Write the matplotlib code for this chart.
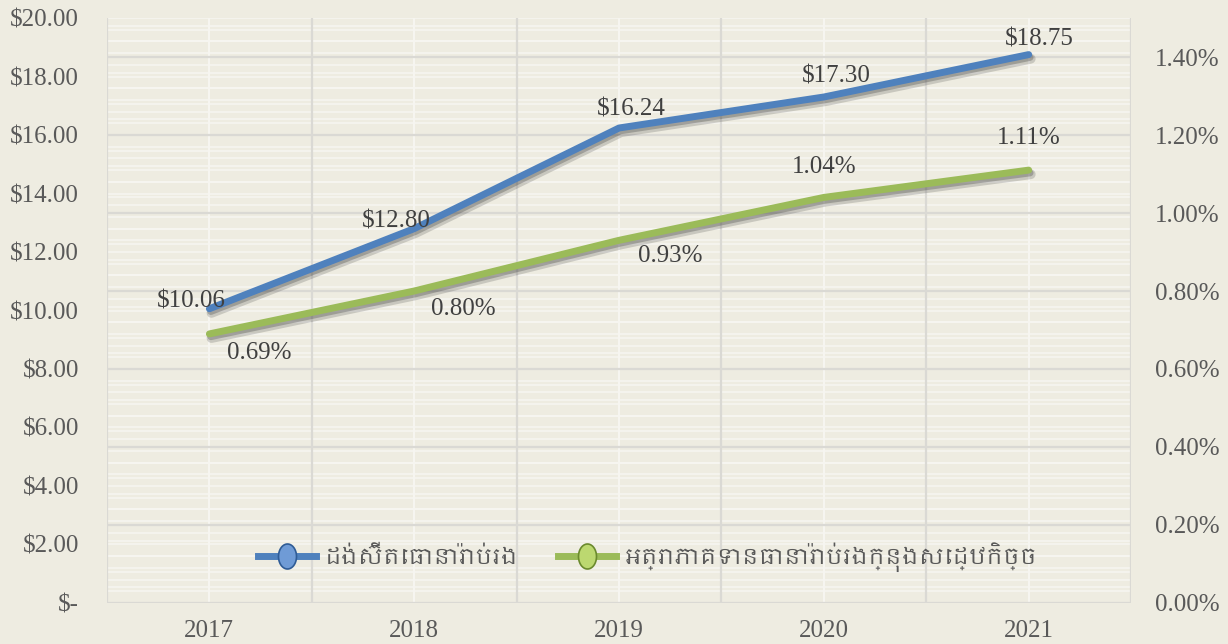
import numpy as np
import matplotlib
matplotlib.use("Agg")
import matplotlib.pyplot as plt
import matplotlib.font_manager as fm
import matplotlib.patheffects as pe
from matplotlib.lines import Line2D
from matplotlib.path import Path
from matplotlib.ticker import FuncFormatter

# data
years = ["2017", "2018", "2019", "2020", "2021"]
density = [10.06, 12.80, 16.24, 17.30, 18.75]        # $ per head, left axis
penetration = [0.69, 0.80, 0.93, 1.04, 1.11]         # % of economy, right axis
density_name = "ដង់ស៊ីតេធានារ៉ាប់រង"
penetration_name = "អត្រាភាគទានធានារ៉ាប់រងក្នុងសេដ្ឋកិច្ច"


# look for any installed font that has Khmer glyphs
def find_khmer_font():
    try:
        from fontTools.ttLib import TTFont
    except ImportError:
        return None
    for f in fm.fontManager.ttflist:
        if "khmer" in f.name.lower():
            return f.name
    for f in fm.fontManager.ttflist:
        try:
            cmap = TTFont(f.fname, fontNumber=0, lazy=True).getBestCmap()
        except Exception:
            continue
        if cmap and 0x1780 in cmap and 0x17D2 in cmap:
            return f.name
    return None


khmer_font = find_khmer_font()
legend_family = [khmer_font, "DejaVu Sans"] if khmer_font else ["DejaVu Sans"]

BG = "#EEECE1"
TXT = "#595959"
BLUE = "#4F81BD"
GREEN = "#9BBB59"
plt.rcParams["font.family"] = ["Liberation Serif", "DejaVu Serif"]

fig = plt.figure(figsize=(12.28, 6.44), dpi=100, facecolor=BG)
ax = fig.add_axes([0.0871, 0.0637, 0.834, 0.9083])
ax.set_facecolor(BG)
ax2 = ax.twinx()
ax2.patch.set_visible(False)

x = np.arange(len(years))
ax.set_xlim(-0.5, len(years) - 0.5)
ax.set_ylim(0, 20)
ax2.set_ylim(0, 1.5)

# grid: everything drawn on the lower axes so it stays under both lines
for v in np.arange(0, 20.01, 0.4):
    ax.axhline(v, color="#F7F6F1", lw=1.1, zorder=0.5)
ytr = ax2.get_yaxis_transform()
for v in np.arange(0, 1.5, 0.04):
    ax.add_line(Line2D([0, 1], [v, v], transform=ytr, color="#F7F6F1", lw=1.1, zorder=0.6))
for v in np.arange(0, 1.41, 0.2):
    ax.add_line(Line2D([0, 1], [v, v], transform=ytr, color="#DAD9D4", lw=1.6, zorder=0.8))
for xc in x:
    ax.axvline(xc, color="#F7F6F1", lw=1.4, zorder=0.7)
for xb in np.arange(-0.5, len(years), 1.0):
    ax.axvline(xb, color="#DAD9D4", lw=1.6, zorder=0.8)

for a in (ax, ax2):
    for s in a.spines.values():
        s.set_visible(False)
    a.tick_params(length=0, labelsize=18, labelcolor=TXT)

ax.set_xticks(x)
ax.set_xticklabels(years)
ax.tick_params(axis="x", pad=12)
ax.set_yticks(np.arange(0, 20.01, 2))
ax.yaxis.set_major_formatter(FuncFormatter(lambda v, p: "$-" if v == 0 else f"${v:.2f}"))
ax.tick_params(axis="y", pad=20)
ax2.set_yticks(np.arange(0, 1.41, 0.2))
ax2.yaxis.set_major_formatter(FuncFormatter(lambda v, p: f"{v:.2f}%"))
ax2.tick_params(axis="y", pad=17)

shadow = [pe.SimpleLineShadow(offset=(1.5, -3), shadow_color="#202020", alpha=0.18, linewidth=7),
          pe.SimpleLineShadow(offset=(1.0, -2), shadow_color="#202020", alpha=0.25),
          pe.Normal()]
ax.plot(x, density, color=BLUE, lw=5, solid_capstyle="round", path_effects=shadow, zorder=3)
ax2.plot(x, penetration, color=GREEN, lw=5, solid_capstyle="round", path_effects=shadow, zorder=3)

# data labels
blue_off = [(-13, 5), (-13, 5), (9, 13), (9, 15), (8, 11)]
for xi, v, off in zip(x, density, blue_off):
    ax.annotate(f"${v:.2f}", (xi, v), xytext=off, textcoords="offset points",
                ha="center", va="center", fontsize=18, color="#404040", zorder=5)
green_off = [(36, -14), (35, -13), (37, -11.5), (0, 22), (0, 23)]
for xi, v, off in zip(x, penetration, green_off):
    ax2.annotate(f"{v:.2f}%", (xi, v), xytext=off, textcoords="offset points",
                 ha="center", va="center", fontsize=18, color="#404040", zorder=5)

# tall oval marker like the bevelled dots in the legend
t = np.linspace(0, 2 * np.pi, 60)
oval = Path(np.column_stack([0.72 * np.cos(t), np.sin(t)]), closed=True)
handles = [
    Line2D([], [], color=BLUE, lw=5, marker=oval, markersize=18,
           markerfacecolor="#6F9BD6", markeredgecolor="#2F5C96", markeredgewidth=1.2),
    Line2D([], [], color=GREEN, lw=5, marker=oval, markersize=18,
           markerfacecolor="#BCD870", markeredgecolor="#6B8A2E", markeredgewidth=1.2),
]
leg = ax2.legend(handles, [density_name, penetration_name], ncol=2, frameon=False,
                 loc="center", bbox_to_anchor=(648 / 1228, 1 - 557 / 644),
                 bbox_transform=fig.transFigure, handlelength=2.6, columnspacing=1.8,
                 handletextpad=0.4, prop={"family": legend_family, "size": 16})
for txt in leg.get_texts():
    txt.set_color(TXT)

fig.savefig("out.png", dpi=100, facecolor=BG)
